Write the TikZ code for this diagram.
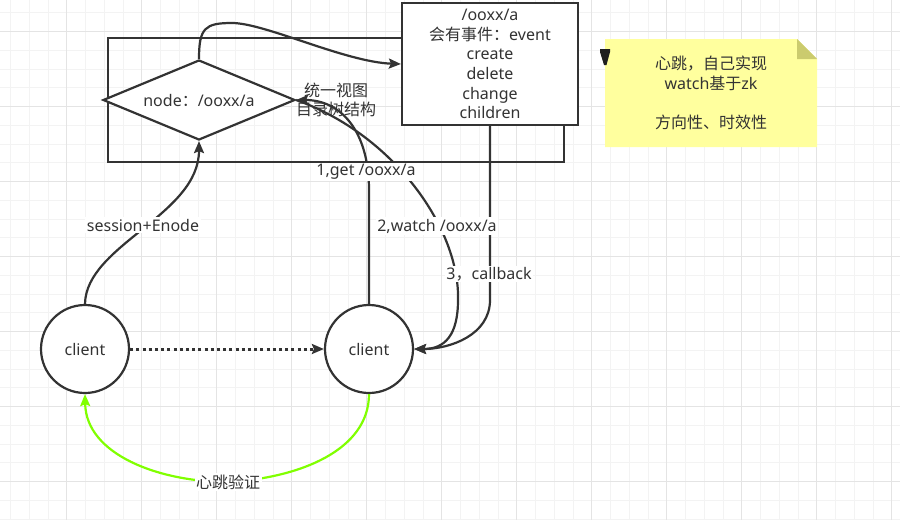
\documentclass[tikz,border=0pt]{standalone}
\usepackage{fontspec}
\setmainfont{Noto Sans}
\newfontfamily\cjk{Noto Sans CJK SC}
\usetikzlibrary{shapes.geometric,arrows.meta}
\definecolor{ink}{HTML}{333333}
\definecolor{gridminor}{HTML}{F3F3F3}
\definecolor{gridmajor}{HTML}{E4E4E4}
\definecolor{notefill}{HTML}{FFFF9E}
\definecolor{notefold}{HTML}{CBCB6E}
\definecolor{beat}{HTML}{80FF00}
\begin{document}
\begin{tikzpicture}[x=1pt,y=-1pt,
  font=\fontsize{16}{19.7}\selectfont,
  every node/.style={text=ink},
  tip/.style={-{Stealth[length=12pt,width=10pt,inset=2pt]}},
  conn/.style={draw=ink, line width=2.2pt, tip},
  box/.style={draw=ink, line width=2.2pt, fill=white, inner sep=0pt},
  client/.style={circle, draw=ink, line width=2.2pt, fill=white,
    minimum size=88pt, inner sep=0pt},
  lbl/.style={fill=white, inner sep=1.5pt},
]
\useasboundingbox (0,0) rectangle (900,520);

% background grid
\begin{scope}
  \clip (0,0) rectangle (900,520);
  \foreach \k in {0,...,48}
    \draw[gridminor, line width=1pt] ({10.5+18.75*\k},0) -- ++(0,520);
  \foreach \k in {0,...,28}
    \draw[gridminor, line width=1pt] (0,{12.95+18.75*\k}) -- ++(900,0);
  \foreach \k in {0,...,12}
    \draw[gridmajor, line width=1pt] ({-8.25+75*\k},0) -- ++(0,520);
  \foreach \k in {0,...,7}
    \draw[gridmajor, line width=1pt] (0,{31.7+75*\k}) -- ++(900,0);
\end{scope}

% unified view container
\node[draw=ink, line width=2.2pt, minimum width=456pt, minimum height=124pt,
  inner sep=0pt] (view) at (336,100) {};

% znode and its event box
\node[box, diamond, aspect=2.4, minimum width=192pt, minimum height=80pt]
  (zn) at (199,100) {node{\cjk ：}/ooxx/a};
\node[box, minimum width=176pt, minimum height=122pt, align=center]
  (ev) at (490,64)
  {/ooxx/a\\{\cjk 会有事件：}event\\create\\delete\\change\\children};

% sticky note
\fill[notefill] (605,39) -- (797,39) -- (817,59) -- (817,147) -- (605,147) -- cycle;
\fill[notefold] (797,39) -- (817,59) -- (797,59) -- cycle;
\node[align=center] (memo) at (711,93)
  {{\cjk 心跳，自己实现}\\watch{\cjk 基于}zk\\[19.7pt]{\cjk 方向性、时效性}};
\fill[black!88] (600,49) -- (610,49) -- (610,52) -- (606.5,65) -- (604,65)
  -- (600,52) -- cycle;

% clients
\node[client] (c1) at (85,349) {client};
\node[client] (c2) at (369,349) {client};

\node[align=center] (tree) at (336,100) {{\cjk 统一视图}\\{\cjk 目录树结构}};

% connectors
\draw[conn] (zn.north) .. controls (199,28) and (205,23) .. (232,23)
  .. controls (265,23) and (345,62) .. (ev.west);
\draw[conn] (c1.north) .. controls (86,245) and (199,215) .. (zn.south);
\draw[conn] (c2.north) -- (369,190) .. controls (369,130) and (340,100) .. (zn.east);
\draw[conn] (zn.east) .. controls (395,135) and (460,230) .. (458,300)
  .. controls (458,335) and (445,349) .. (c2.east);
\draw[conn] (ev.south) -- (490,300) .. controls (490,335) and (450,349) .. (c2.east);
\draw[conn, line width=3pt, dash pattern=on 3pt off 3.2pt] (c1.east) -- (c2.west);
\draw[conn, draw=beat] (c2.south) .. controls (369,450) and (300,478) .. (228,482)
  .. controls (160,482) and (86,455) .. (c1.south);

% connector labels
\node[lbl] (sess) at (143,225) {session+Enode};
\node[lbl] (get) at (366,172) {1,get /ooxx/a};
\node[lbl] (watch) at (437,226) {2,watch /ooxx/a};
\node[lbl] (cb) at (489,274) {3{\cjk ，}callback};
\node[lbl] (hb) at (228,482) {{\cjk 心跳验证}};
\end{tikzpicture}
\end{document}
